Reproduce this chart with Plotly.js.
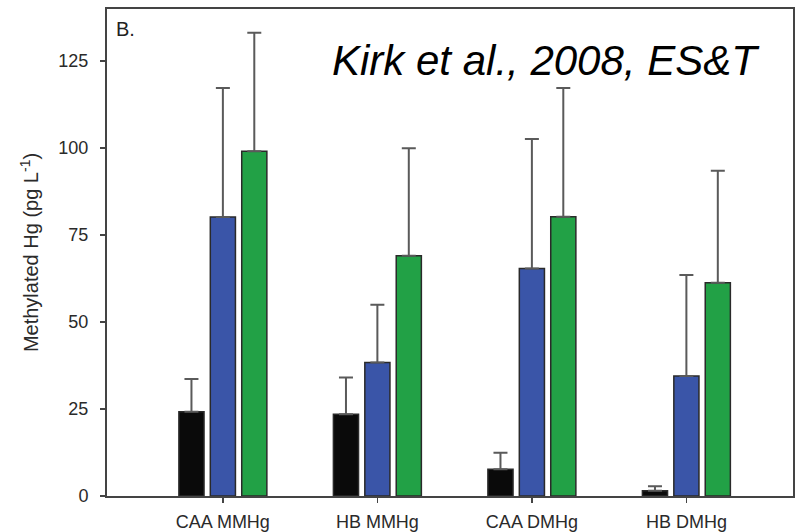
<!DOCTYPE html>
<html>
<head>
<meta charset="utf-8">
<script src="https://cdn.plot.ly/plotly-3.0.1.min.js"></script>
<style>html,body{margin:0;padding:0;background:#fff;}#chart{width:801px;height:532px;}</style>
</head>
<body>
<div id="chart"></div>
<script>
const categories = ["CAA MMHg", "HB MMHg", "CAA DMHg", "HB DMHg"];
const blackValues = [24.2, 23.5, 7.7, 1.5];
const blackErrors = [9.4, 10.6, 4.7, 1.3];
const blueValues = [80.2, 38.4, 65.4, 34.5];
const blueErrors = [37.1, 16.6, 37.2, 29.0];
const greenValues = [99.1, 69.1, 80.3, 61.3];
const greenErrors = [34.1, 30.9, 37.0, 32.2];
const yTickValues = [0, 25, 50, 75, 100, 125];

function barTrace(vals, errs, color) {
  return {
    type: 'bar',
    x: categories,
    y: vals,
    marker: {color: color, line: {color: '#2a2a2a', width: 1.5}},
    error_y: {type: 'data', array: errs, symmetric: false, arrayminus: errs.map(() => 0),
              color: '#5a5a5a', thickness: 2, width: 7},
    showlegend: false,
    hoverinfo: 'skip'
  };
}

const data = [
  barTrace(blackValues, blackErrors, '#0a0a0a'),
  barTrace(blueValues, blueErrors, '#3a55a8'),
  barTrace(greenValues, greenErrors, '#22a146')
];

const layout = {
  width: 801, height: 532,
  margin: {l: 107, r: 8, t: 9, b: 36},
  paper_bgcolor: '#fff', plot_bgcolor: '#fff',
  barmode: 'group', bargap: 0.39, bargroupgap: 0.2,
  font: {family: 'Liberation Sans, Arial, sans-serif', color: '#222'},
  xaxis: {
    range: [-0.75, 3.69], showgrid: false, zeroline: false,
    showline: true, linecolor: '#444', linewidth: 2, mirror: true,
    ticks: 'outside', ticklen: 5, tickcolor: '#444', tickwidth: 1.5,
    ticklabelstandoff: 3,
    tickfont: {size: 18, color: '#2a2a2a'}
  },
  yaxis: {
    range: [0, 140], showgrid: false, zeroline: false,
    showline: true, linecolor: '#444', linewidth: 2, mirror: true,
    ticks: 'outside', ticklen: 5, tickcolor: '#444', tickwidth: 1.5,
    ticklabelstandoff: 8,
    tickvals: yTickValues, ticktext: yTickValues.map(String),
    tickfont: {size: 18, color: '#2a2a2a'},
    title: {text: 'Methylated Hg (pg L<sup>-1</sup>)', font: {size: 20, color: '#2a2a2a'}, standoff: 14}
  },
  annotations: [
    {text: 'B.', xref: 'paper', yref: 'paper', x: 0.01, y: 0.985, xanchor: 'left', yanchor: 'top',
     showarrow: false, font: {size: 20, color: '#222'}},
    {text: '<i>Kirk et al., 2008, ES&amp;T</i>', xref: 'paper', yref: 'paper', x: 0.64, y: 0.895,
     xanchor: 'center', yanchor: 'middle', showarrow: false, font: {size: 42, color: '#000'}}
  ]
};

Plotly.newPlot('chart', data, layout, {displayModeBar: false, staticPlot: true});
</script>
</body>
</html>
